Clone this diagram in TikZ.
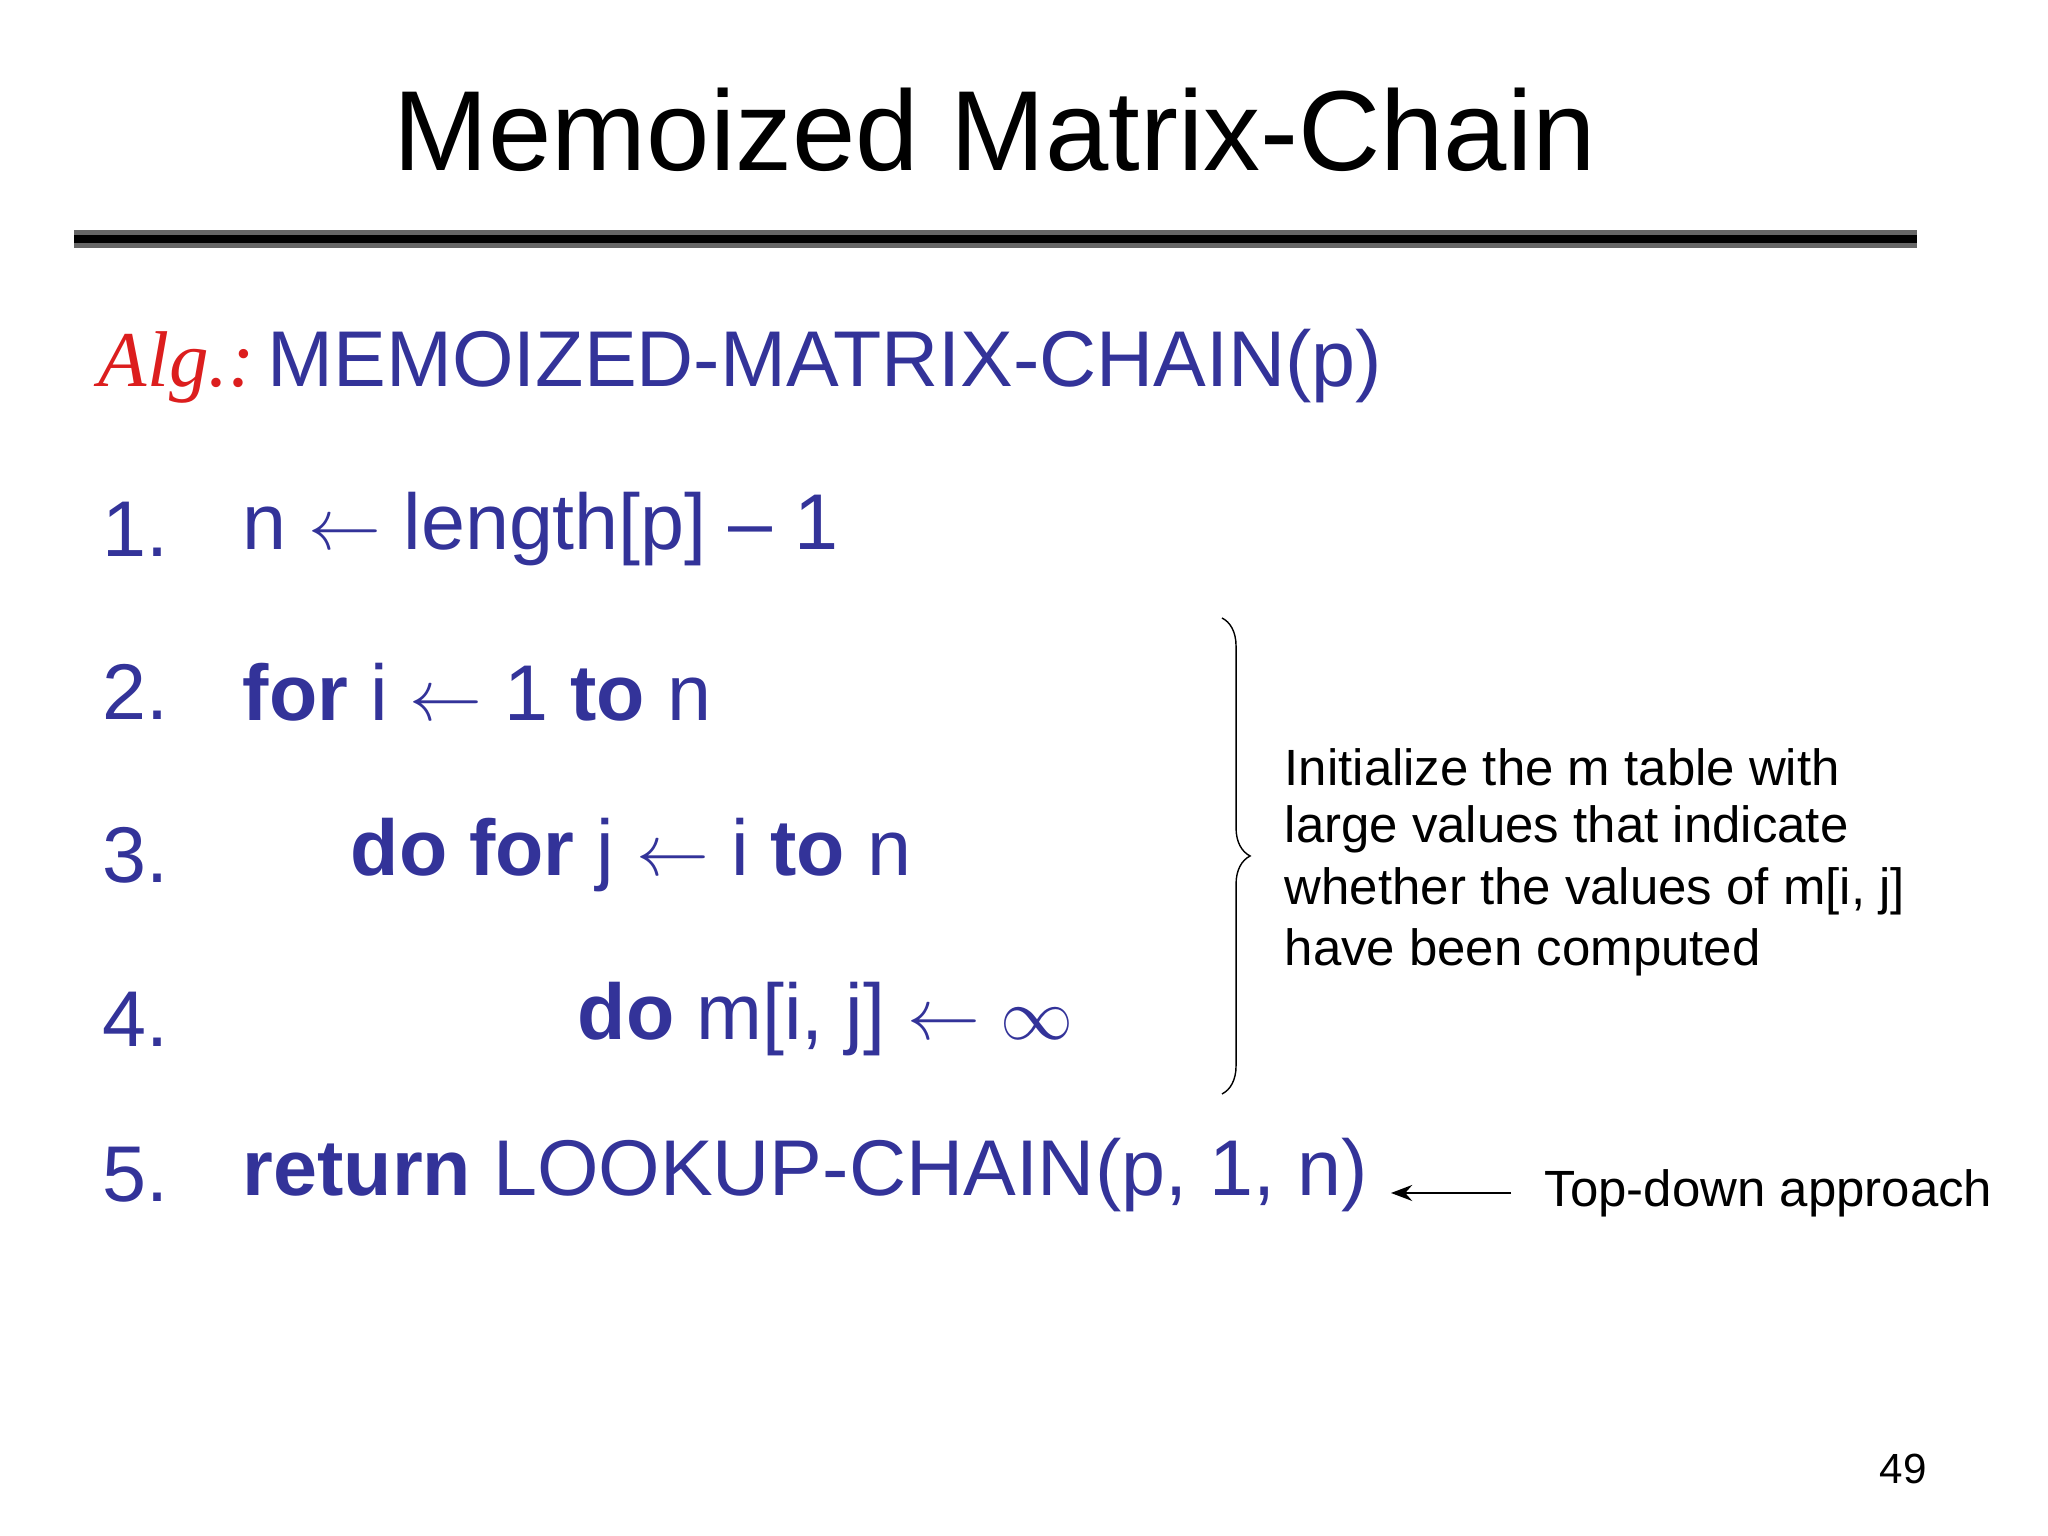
\documentclass[tikz,border=0pt]{standalone}
\usepackage{fontspec}
\setmainfont{Liberation Sans}
\newfontfamily\algfont{Liberation Serif}
\usetikzlibrary{decorations.pathreplacing,arrows.meta}
\definecolor{codeblue}{RGB}{51,51,153}
\definecolor{algred}{RGB}{220,30,30}
\tikzset{
  code/.style={anchor=west,text=codeblue,font=\fontsize{22.5}{27}\selectfont,inner sep=0pt},
  note/.style={anchor=west,font=\fontsize{14.5}{17}\selectfont,inner sep=0pt}
}
\begin{document}
\begin{tikzpicture}
\useasboundingbox (0,0) rectangle (20.48,15.36);
\node[inner sep=0pt,font=\fontsize{32.4}{38}\selectfont] (title) at (9.95,14.06) {Memoized Matrix-Chain};
\coordinate (r1) at (0.74,12.97); \coordinate (r2) at (19.17,12.97);
\draw[line width=5pt,black!60] (r1) -- (r2);
\draw[line width=2.5pt,black] (r1) -- (r2);
\node[code] (alg) at (0.98,11.70) {{\algfont\itshape\color{algred}Alg.:}\,MEMOIZED-MATRIX-CHAIN(p)};
\node[code] (n1) at (1.02,10.07) {1.};
\node[code] (l1) at (2.42,10.07) {n $\leftarrow$ length[p] -- 1};
\node[code] (n2) at (1.02,8.44) {2.};
\node[code] (l2) at (2.42,8.44) {\textbf{for} i $\leftarrow$ 1 \textbf{to} n};
\node[code] (n3) at (1.02,6.81) {3.};
\node[code] (l3) at (3.50,6.81) {\textbf{do for} j $\leftarrow$ i \textbf{to} n};
\node[code] (n4) at (1.02,5.17) {4.};
\node[code] (l4) at (5.77,5.17) {\textbf{do} m[i, j] $\leftarrow\infty$};
\node[code] (n5) at (1.02,3.61) {5.};
\node[code] (l5) at (2.42,3.61) {\textbf{return} LOOKUP-CHAIN(p, 1, n)};
\coordinate (b1) at (12.22,9.18); \coordinate (b2) at (12.22,4.42);
\draw[decorate,decoration={brace,amplitude=8pt}] (b1) -- (b2);
\node[note] (a1) at (12.84,7.69) {Initialize the m table with};
\node[note] (a2) at (12.84,7.07) {large values that indicate};
\node[note] (a3) at (12.84,6.45) {whether the values of m[i, j]};
\node[note] (a4) at (12.84,5.84) {have been computed};
\node[note] (td) at (15.44,3.43) {Top-down approach};
\coordinate (ae) at (13.91,3.43);
\draw[-{Stealth[length=6pt]},line width=0.8pt] (td.west)++(-0.33,0) -- (ae);
\node[inner sep=0pt,font=\fontsize{12}{14}\selectfont] (pg) at (19.03,0.67) {49};
\end{tikzpicture}
\end{document}
